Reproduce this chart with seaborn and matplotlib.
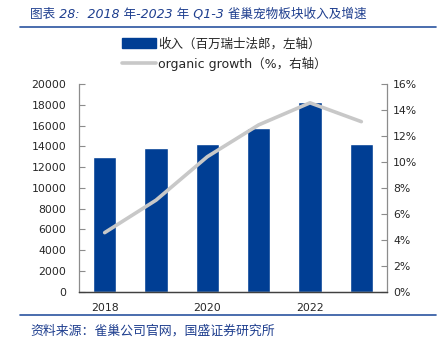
import matplotlib
matplotlib.use("Agg")
import matplotlib.pyplot as plt
from matplotlib.lines import Line2D
from matplotlib.patches import Patch
from matplotlib.ticker import FuncFormatter, FixedLocator
import seaborn as sns
import numpy as np
import pandas as pd

years = ["2018", "2019", "2020", "2021", "2022", "2023"]
revenue = [12990, 13810, 14190, 15730, 18300, 14190]
growth = [4.55, 7.05, 10.4, 12.85, 14.55, 13.1]
shown_year_labels = ["2018", "", "2020", "", "2022", ""]

title = "图表 28:  2018 年-2023 年 Q1-3 雀巢宠物板块收入及增速"
source = "资料来源：雀巢公司官网，国盛证券研究所"
bar_label = "收入（百万瑞士法郎，左轴）"
line_label = "organic growth（%，右轴）"

sns.set_style("white")
plt.rcParams['font.family'] = ['DejaVu Sans', 'Noto Sans CJK SC']

W, H = 440, 352
fig = plt.figure(figsize=(W / 100, H / 100), dpi=100)

BLUE = "#003E94"
GRAY = "#C8C8C8"
SPINE = "#8C8C8C"
TEXTBLUE = "#1F3F8F"

ax = fig.add_axes([79 / W, 60.3 / H, 308 / W, 207.7 / H])
df = pd.DataFrame({"year": years, "revenue": revenue})
sns.barplot(data=df, x="year", y="revenue", color=BLUE, saturation=1,
            width=0.45, ax=ax)
ax.set_ylim(0, 20000)
ax.set_xlim(-0.5, len(years) - 0.5)
ax.set_yticks(np.arange(0, 20001, 2000))
ax.set_xlabel("")
ax.set_ylabel("")
ax.set_xticks(range(len(years)))
ax.set_xticklabels(shown_year_labels)
ax.xaxis.set_minor_locator(FixedLocator(np.arange(0.5, len(years) - 0.5, 1)))
ax.tick_params(axis='x', which='major', length=0, pad=8, labelsize=7.8)
ax.tick_params(axis='x', which='minor', length=4, direction='in', color=SPINE, width=0.8)
ax.tick_params(axis='y', length=4, direction='in', color=SPINE, width=0.8, pad=9, labelsize=7.8)

ax2 = ax.twinx()
sns.lineplot(x=np.arange(len(years)), y=growth, ax=ax2, color=GRAY, linewidth=2.6)
ax2.set_ylim(0, 16)
ax2.set_yticks(np.arange(0, 16.1, 2))
ax2.yaxis.set_major_formatter(FuncFormatter(lambda v, p: f"{v:.0f}%"))
ax2.tick_params(axis='y', length=4, direction='in', color=SPINE, width=0.8, pad=4.5, labelsize=7.8)
ax2.set_xlim(-0.5, len(years) - 0.5)

for a in (ax, ax2):
    a.spines['top'].set_visible(False)
    for s in ('left', 'right', 'bottom'):
        a.spines[s].set_color(SPINE)
        a.spines[s].set_linewidth(0.9)
ax.spines['right'].set_visible(False)
ax2.spines['left'].set_visible(False)
ax2.spines['bottom'].set_color("#404040")
ax.spines['bottom'].set_color("#404040")

handles = [Patch(facecolor=BLUE, edgecolor=BLUE),
           Line2D([0], [0], color=GRAY, linewidth=2.6)]
fig.legend(handles, [bar_label, line_label], loc='upper left',
           bbox_to_anchor=(122 / W, 1 - 37.5 / H), frameon=False,
           fontsize=9, handlelength=2.7, handleheight=0.85, handletextpad=0.2,
           labelspacing=0.5, borderpad=0, borderaxespad=0)

fig.text(30 / W, 1 - 14 / H, title, fontsize=9.1, color=TEXTBLUE, style='italic',
         va='center', ha='left')
fig.add_artist(Line2D([20 / W, 436 / W], [1 - 27 / H, 1 - 27 / H], color="#2A54A0", linewidth=1.2))
fig.add_artist(Line2D([20 / W, 436 / W], [1 - 315 / H, 1 - 315 / H], color="#2A54A0", linewidth=1.2))
fig.text(30 / W, 1 - 331 / H, source, fontsize=9.3, color=TEXTBLUE, style='italic',
         va='center', ha='left')

fig.savefig("out.png", dpi=100)
